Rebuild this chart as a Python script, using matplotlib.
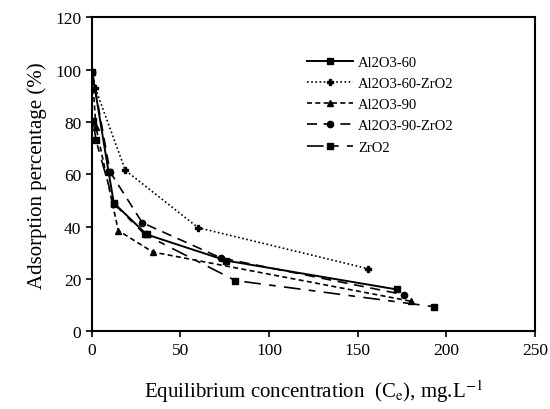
import matplotlib
matplotlib.use("Agg")
import matplotlib.pyplot as plt

plt.rcParams['font.family'] = ['Liberation Serif', 'DejaVu Serif']
plt.rcParams['mathtext.fontset'] = 'stix'

# Al2O3-60
x_a60 = [0.3, 9.5, 12.5, 31, 76, 172]
y_a60 = [99, 61, 49, 37, 27, 16]
# Al2O3-60-ZrO2
x_a60z = [0.3, 2, 19, 60, 156]
y_a60z = [99, 93, 61.5, 39.6, 23.9]
# Al2O3-90
x_a90 = [0.3, 2.4, 15, 34.4, 180]
y_a90 = [99, 78, 38.5, 30.3, 11.5]
# Al2O3-90-ZrO2
x_a90z = [0.3, 10.3, 28.5, 73, 176]
y_a90z = [99, 61, 41.5, 28, 14]
# ZrO2
x_zr = [0.9, 2.4, 12.5, 30, 81, 193]
y_zr = [80.5, 73, 48.8, 37, 19.4, 9.4]

fig = plt.figure(figsize=(5.5, 4.1), dpi=100)
ax = fig.add_axes([0.1667, 0.1895, 0.806, 0.766])

ax.plot(x_a60, y_a60, color='black', lw=1.4, ls='-', marker='s', ms=4.5, label='Al2O3-60')
ax.plot(x_a60z, y_a60z, color='black', lw=1.2, ls=(0, (1, 1.5)), marker='P', ms=5, label='Al2O3-60-ZrO2')
ax.plot(x_a90, y_a90, color='black', lw=1.2, ls=(0, (3, 2)), marker='^', ms=4.5, label='Al2O3-90')
ax.plot(x_a90z, y_a90z, color='black', lw=1.2, ls=(0, (6, 4)), marker='o', ms=4.5, label='Al2O3-90-ZrO2')
ax.plot(x_zr, y_zr, color='black', lw=1.2, ls=(0, (10, 5, 4, 5)), marker='s', ms=4.5, label='ZrO2')

ax.set_xlim(0, 250)
ax.set_ylim(0, 120)
ax.set_xticks([0, 50, 100, 150, 200, 250])
ax.set_yticks([0, 20, 40, 60, 80, 100, 120])
ax.tick_params(direction='out', length=4, width=1.2, labelsize=12.5)
for s in ax.spines.values():
    s.set_linewidth(1.5)

ax.set_ylabel('Adsorption percentage (%)', fontsize=15, labelpad=6)
ax.set_xlabel('Equilibrium concentration  (C$_\\mathrm{e}$), mg.L$^{-1}$', fontsize=15, labelpad=14)

ax.legend(loc='upper left', bbox_to_anchor=(0.455, 0.92), frameon=False, fontsize=10.5,
          handlelength=3.2, labelspacing=0.55, handletextpad=0.35)

fig.savefig('out.png', dpi=100)
